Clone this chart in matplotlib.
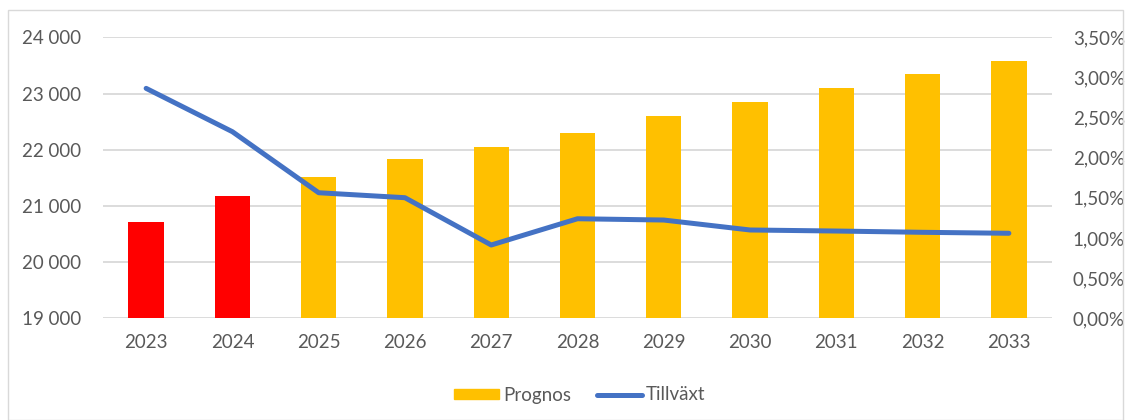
import matplotlib
matplotlib.use("Agg")
import matplotlib.pyplot as plt
from matplotlib.patches import Rectangle
from matplotlib.lines import Line2D

plt.rcParams['font.family'] = ['Lato', 'DejaVu Sans']

years = ['2023', '2024', '2025', '2026', '2027', '2028', '2029', '2030', '2031', '2032', '2033']
prognos = [20708, 21176, 21509, 21835, 22043, 22300, 22594, 22843, 23093, 23342, 23584]
tillvaxt = [2.864, 2.324, 1.564, 1.502, 0.913, 1.240, 1.224, 1.100, 1.087, 1.071, 1.059]
bar_colors = ['#FF0000', '#FF0000'] + ['#FFC000'] * 9

left_ticks = [19000, 20000, 21000, 22000, 23000, 24000]
right_ticks = [0, 0.5, 1.0, 1.5, 2.0, 2.5, 3.0, 3.5]

txt = '#595959'
grid = '#D9D9D9'
fs = 13.5

fig = plt.figure(figsize=(11.31, 4.2), dpi=100)
ax = fig.add_axes([103 / 1131, 1 - 318.3 / 420, (1052 - 103) / 1131, (318.3 - 37.3) / 420])

x = list(range(len(years)))
ax.bar(x, [v - 19000 for v in prognos], bottom=19000, width=0.41, color=bar_colors, zorder=2)
ax.set_xlim(-0.5, len(years) - 0.5)
ax.set_ylim(19000, 24000)
ax.set_yticks(left_ticks)
ax.set_yticklabels([f"{v:,}".replace(',', ' ') for v in left_ticks])
ax.set_xticks(x)
ax.set_xticklabels(years)
ax.grid(axis='y', color=grid, lw=1.3, zorder=0)
ax.set_axisbelow(True)
for s in ax.spines.values():
    s.set_visible(False)
ax.tick_params(length=0, colors=txt, labelsize=fs)
ax.tick_params(axis='y', pad=16)
ax.tick_params(axis='x', pad=11)

ax2 = ax.twinx()
ax2.plot(x, tillvaxt, color='#4472C4', lw=3.6, solid_capstyle='round', solid_joinstyle='round', zorder=3)
ax2.set_ylim(0, 3.5)
ax2.set_yticks(right_ticks)
ax2.set_yticklabels([f"{v:.2f}%".replace('.', ',') for v in right_ticks])
for s in ax2.spines.values():
    s.set_visible(False)
ax2.tick_params(length=0, colors=txt, labelsize=fs, pad=15)

handles = [Rectangle((0, 0), 1, 1, color='#FFC000'),
           Line2D([0], [0], color='#4472C4', lw=3.6, solid_capstyle='round')]
fig.legend(handles, ['Prognos', 'Tillväxt'], loc='center', bbox_to_anchor=(580 / 1131, 1 - 395 / 420),
           ncol=2, frameon=False, fontsize=fs, labelcolor=txt, handlelength=2.4,
           handleheight=0.5, handletextpad=0.2, columnspacing=1.4)

fig.patches.append(Rectangle((8 / 1131, 0), 1 - 16 / 1131, 1 - 10 / 420, transform=fig.transFigure,
                             fill=False, edgecolor='#D9D9D9', lw=1))

fig.savefig('out.png', dpi=100)
